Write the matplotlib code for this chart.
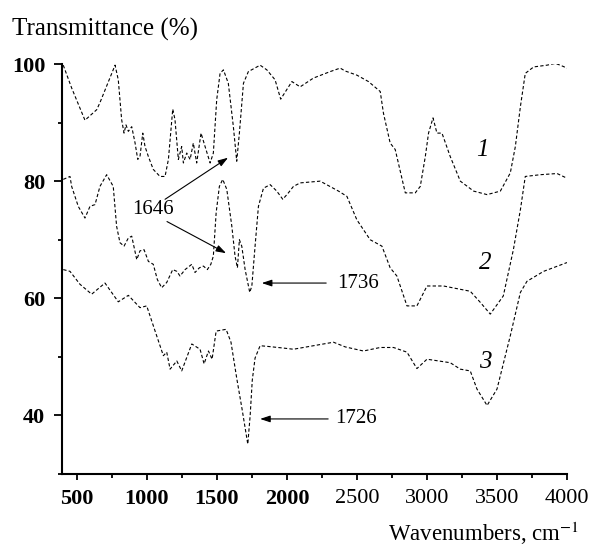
import matplotlib
matplotlib.use("Agg")
import matplotlib.pyplot as plt
from matplotlib.ticker import MultipleLocator

plt.rcParams['font.family'] = ['Liberation Serif', 'DejaVu Serif']
plt.rcParams['mathtext.fontset'] = 'stix'

# ---- data (wavenumber, transmittance) ----
wn1 = [402, 462, 557, 641, 664, 772, 795, 819, 836, 850, 867, 891, 915, 934, 950, 970, 986, 1010,
       1045, 1093, 1129, 1153, 1184, 1200, 1224, 1248, 1260, 1284, 1308, 1331, 1355, 1386, 1415,
       1451, 1474, 1498, 1522, 1546, 1581, 1617, 1641, 1660, 1689, 1724, 1808, 1856, 1915, 1955,
       2035, 2094, 2189, 2308, 2380, 2416, 2499, 2582, 2666, 2689, 2737, 2773, 2845, 2916, 2952,
       2988, 3011, 3043, 3071, 3107, 3166, 3238, 3333, 3429, 3524, 3595, 3631, 3667, 3702, 3762,
       3857, 3916, 3952, 4000]
t1 = [99.8, 95.9, 90.4, 92.2, 93.4, 99.8, 97.3, 90.5, 88.2, 89.6, 88.5, 89.3, 86.5, 83.7, 84.2,
      88.2, 85.9, 84.2, 82.0, 80.8, 80.8, 83.7, 92.3, 90.5, 83.7, 85.9, 83.1, 84.8, 83.7, 86.5,
      83.1, 88.2, 85.9, 83.1, 84.8, 93.9, 98.4, 99.0, 96.7, 89.3, 83.4, 88.2, 96.7, 98.7, 99.8,
      99.0, 97.3, 94.0, 97.0, 96.1, 97.6, 98.7, 99.3, 98.8, 98.1, 97.0, 95.3, 91.6, 86.5, 85.4,
      78.0, 78.0, 79.1, 84.2, 88.2, 90.8, 88.2, 88.2, 84.2, 80.0, 78.3, 77.7, 78.3, 81.4, 85.9,
      92.7, 98.4, 99.5, 99.8, 100.1, 99.8, 99.3]

wn2 = [402, 450, 462, 509, 557, 593, 629, 664, 712, 759, 783, 807, 836, 867, 891, 927, 950, 979,
       1010, 1045, 1074, 1105, 1141, 1184, 1213, 1236, 1272, 1320, 1343, 1374, 1403, 1431, 1456,
       1474, 1494, 1517, 1541, 1570, 1606, 1629, 1646, 1660, 1677, 1701, 1734, 1749, 1772, 1796,
       1832, 1880, 1927, 1970, 2010, 2046, 2094, 2237, 2368, 2428, 2499, 2594, 2678, 2737, 2785,
       2857, 2928, 3000, 3118, 3309, 3381, 3452, 3545, 3617, 3667, 3702, 3810, 3929, 4000]
t2 = [80.3, 80.8, 79.1, 75.7, 73.7, 75.7, 76.0, 79.1, 81.1, 79.1, 72.3, 69.5, 68.9, 70.3, 70.6,
      66.6, 68.1, 68.3, 66.3, 65.8, 63.2, 61.8, 62.7, 64.9, 64.6, 63.8, 64.9, 65.8, 64.4, 65.2,
      65.5, 64.9, 65.8, 67.2, 74.6, 79.1, 80.3, 78.6, 72.3, 67.2, 65.2, 70.0, 68.9, 64.9, 61.0,
      62.1, 68.9, 75.7, 78.8, 79.4, 78.3, 76.9, 78.0, 79.1, 79.7, 80.0, 78.3, 77.4, 73.4, 70.0,
      68.9, 65.2, 63.8, 58.7, 58.7, 62.1, 62.1, 61.2, 59.3, 57.3, 60.4, 68.3, 75.1, 80.8, 81.1,
      81.3, 80.5]

wn3 = [402, 450, 521, 605, 700, 795, 867, 950, 998, 1058, 1117, 1141, 1165, 1213, 1248, 1320,
       1379, 1408, 1439, 1465, 1494, 1565, 1600, 1642, 1679, 1720, 1737, 1752, 1772, 1808, 1856,
       1975, 2046, 2189, 2332, 2416, 2546, 2666, 2761, 2857, 2928, 3000, 3166, 3238, 3309, 3357,
       3429, 3500, 3595, 3667, 3714, 3833, 4000]
t3 = [64.9, 64.6, 62.4, 60.7, 62.6, 59.4, 60.5, 58.4, 58.7, 54.4, 50.2, 50.8, 47.9, 49.3, 47.6,
      52.2, 51.3, 48.8, 51.0, 49.6, 54.4, 54.7, 52.5, 46.2, 41.1, 35.1, 40.0, 46.0, 49.8, 51.9,
      51.8, 51.5, 51.3, 51.9, 52.5, 51.7, 51.0, 51.6, 51.6, 50.8, 48.0, 49.6, 49.0, 47.9, 47.6,
      44.5, 41.7, 44.5, 53.6, 61.0, 62.9, 64.6, 66.1]

xticks = [500, 1000, 1500, 2000, 2500, 3000, 3500, 4000]
yticks = [40, 60, 80, 100]

fig = plt.figure(figsize=(5.94, 5.46), dpi=100)
ax = fig.add_axes([62/594, 1-474/546, (567-62)/594, (474-64)/546])

ls = (0, (3, 2))
for wn, t in [(wn1, t1), (wn2, t2), (wn3, t3)]:
    ax.plot(wn, t, color='black', lw=0.8, linestyle=ls)

ax.set_xlim(393, 4000)
ax.set_ylim(30, 100)
ax.set_xticks(xticks)
ax.set_yticks(yticks)
ax.xaxis.set_minor_locator(MultipleLocator(250))
ax.yaxis.set_minor_locator(MultipleLocator(10))
for s in ['top', 'right']:
    ax.spines[s].set_visible(False)
for s in ['left', 'bottom']:
    ax.spines[s].set_linewidth(1.5)
ax.tick_params(axis='x', which='major', direction='out', length=4, width=1.3, pad=7, labelsize=16)
ax.tick_params(axis='x', which='minor', direction='out', length=3, width=1.3)
ax.tick_params(axis='y', which='major', direction='out', length=6, width=1.3, pad=6, labelsize=16)
ax.tick_params(axis='y', which='minor', direction='out', length=3, width=1.3)
for lab in ax.get_yticklabels():
    lab.set_fontweight('bold')
for lab in ax.get_xticklabels():
    if lab.get_text() in ('500', '1000', '1500', '2000'):
        lab.set_fontweight('bold')

fig.text(12/594, 1-29/546, 'Transmittance (%)', ha='left', va='center', fontsize=18)
fig.text(388/594, 1-533/546, 'Wavenumbers, cm$^{-1}$', ha='left', va='center', fontsize=16.5)

# curve labels
ax.text(3395, 85.4, '1', fontsize=18, style='italic', ha='center', va='center')
ax.text(3416, 66.1, '2', fontsize=18, style='italic', ha='center', va='center')
ax.text(3416, 49.1, '3', fontsize=18, style='italic', ha='center', va='center')

ap = dict(arrowstyle='-|>,head_length=0.6,head_width=0.2', color='black', lw=0.8,
          shrinkA=0, shrinkB=0)
ax.text(1043, 75.1, '1646', fontsize=15, ha='center', va='center')
ax.annotate('', xy=(1579, 84.0), xytext=(1129, 76.9), arrowprops=ap)
ax.annotate('', xy=(1565, 67.7), xytext=(1143, 73.1), arrowprops=ap)

ax.annotate('', xy=(1820, 62.6), xytext=(2280, 62.6), arrowprops=ap)
ax.text(2358, 62.6, '1736', fontsize=15, ha='left', va='center')
ax.annotate('', xy=(1808, 39.4), xytext=(2294, 39.4), arrowprops=ap)
ax.text(2344, 39.4, '1726', fontsize=15, ha='left', va='center')

fig.savefig('out.png', dpi=100)
